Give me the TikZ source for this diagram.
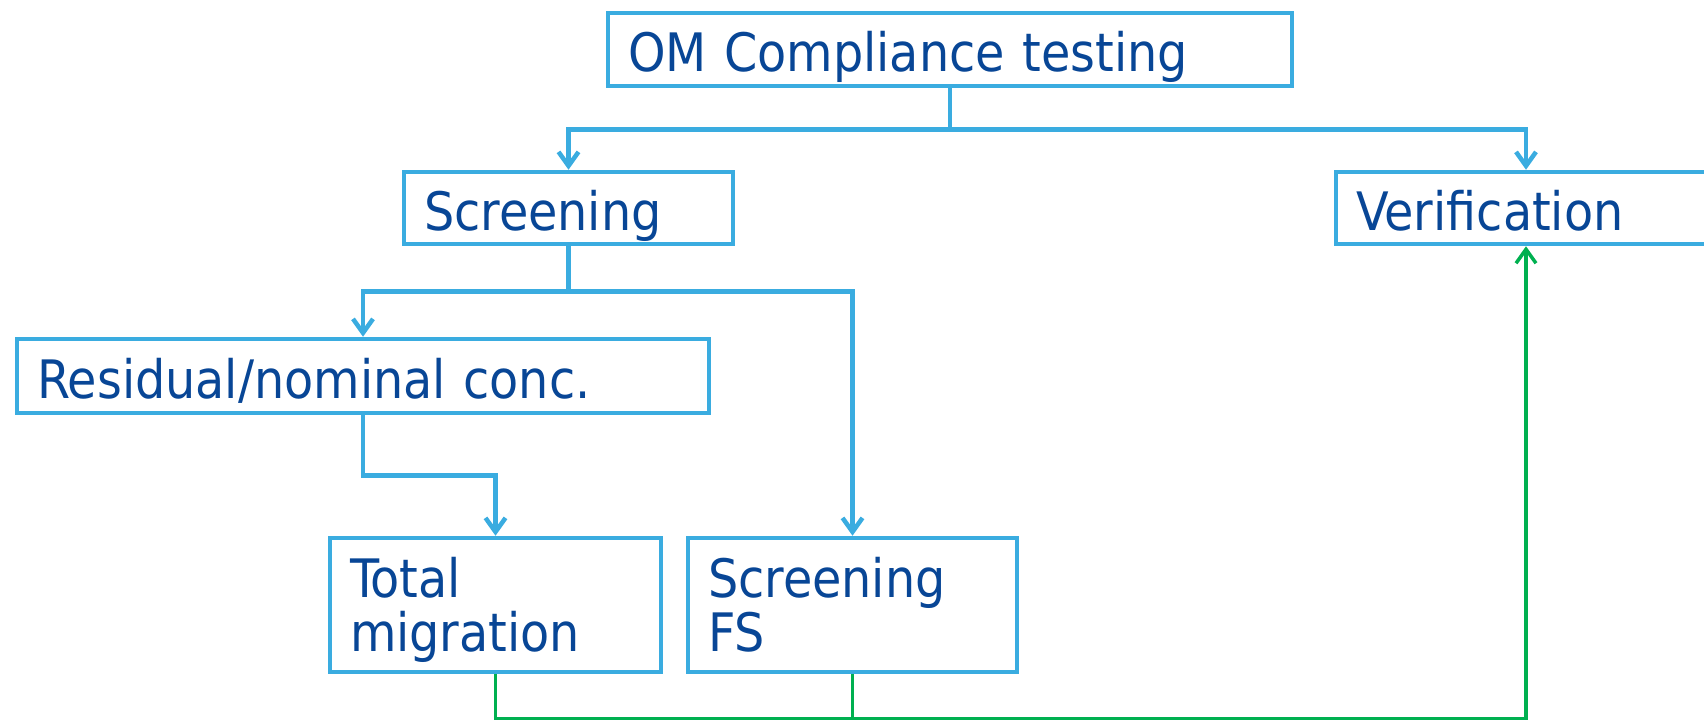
\documentclass[tikz,border=0pt]{standalone}
\usepackage{fontspec}
\setmainfont{DejaVu Sans Condensed}
\usetikzlibrary{arrows.meta}
\definecolor{boxblue}{RGB}{58,172,224}
\definecolor{txtblue}{RGB}{8,70,150}
\definecolor{linkgreen}{RGB}{0,176,80}

\begin{document}
\begin{tikzpicture}[x=1pt,y=-1pt,
    box/.style={draw=boxblue,line width=4.5pt,fill=white,text=txtblue,align=left,
      inner xsep=20pt,inner ysep=0pt,font=\fontsize{53}{54}\selectfont,
      text height=44pt,text depth=0pt},
    twoline/.style={text height=39pt,text depth=54pt},
    link/.style={draw=boxblue,line width=4.5pt,-{Straight Barb[length=14pt,width=20pt]}},
    feed/.style={draw=linkgreen,line width=3.5pt}]
      \useasboundingbox (0,0) rectangle (1704,720);
      \clip (0,0) rectangle (1704,720);
      \node[box,text width=644pt,minimum height=73pt] (om) at (950,49.5) {OM Compliance testing};
      \node[box,text width=289pt,minimum height=72pt] (scr) at (568.5,208) {Screening};
      \node[box,text width=340pt,minimum height=72pt] (ver) at (1526,208) {Verification};
      \node[box,text width=652pt,minimum height=74pt] (res) at (363,376) {Residual/nominal conc.};
      \node[box,twoline,text width=291pt,minimum height=134pt] (tot) at (495.5,605) {Total\\migration};
      \node[box,twoline,text width=289pt,minimum height=134pt] (sfs) at (852.5,605) {Screening\\FS};
      \draw[link] (om.south) -- ++(0,41) -| (scr.north);
      \draw[link] (om.south) -- ++(0,41) -| (ver.north);
      \draw[link] (scr.south) -- ++(0,45) -| (res.north);
      \draw[link] (scr.south) -- ++(0,45) -| (sfs.north);
      \draw[link] (res.south) -- ++(0,60) -| (tot.north);
      \draw[feed] (sfs.south) -- ++(0,44) coordinate (bus);
      \draw[feed,-{Straight Barb[length=14pt,width=20pt]}]
          (tot.south) -- (tot.south |- bus) -| (ver.south);
\end{tikzpicture}
\end{document}
